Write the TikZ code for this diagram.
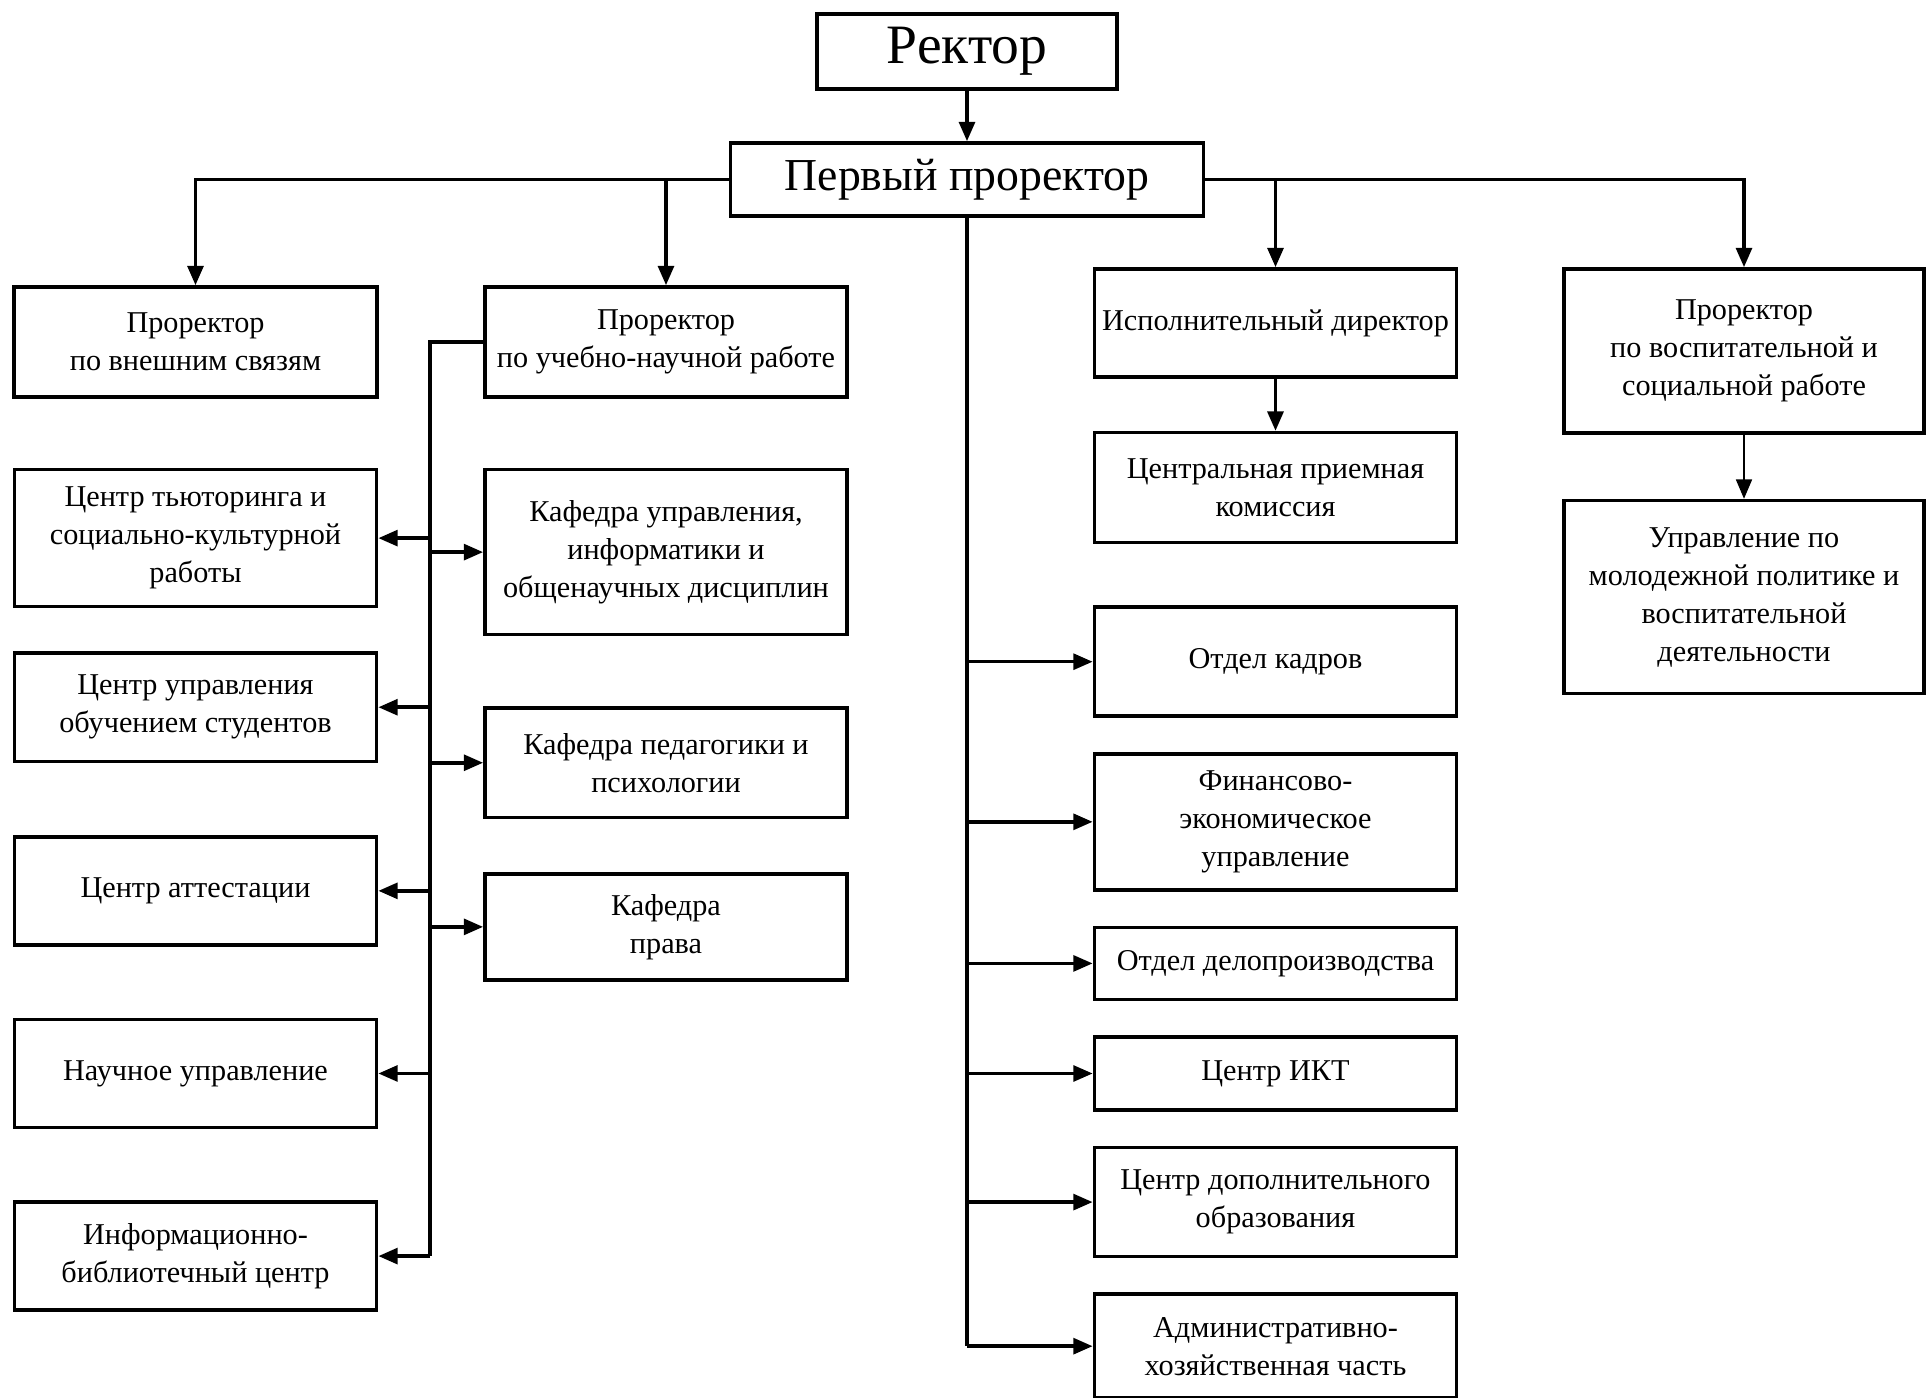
\documentclass[tikz,border=0pt]{standalone}
\usepackage{fontspec}
\setmainfont{Liberation Serif}
\usepackage{tikz}
\usetikzlibrary{positioning}
\usetikzlibrary{arrows.meta}
\tikzstyle{unit} = [draw, rectangle, minimum width=3.62cm, minimum height=1.1cm, inner sep=1pt, align=center, font=\fontsize{8.6}{10.8}\selectfont]
\tikzstyle{head} = [draw, rectangle, inner sep=0pt, align=center]

\begin{document}
\begin{tikzpicture}[x=0.01cm, y=-0.01cm, line width=1pt, >={Triangle[length=5.5pt,width=4.5pt]}]
  \useasboundingbox (0,0) rectangle (1926,1398);

  \node[head, minimum width=3.0cm, minimum height=0.75cm, font=\fontsize{15.8}{18}\selectfont] (rector) at (967,51.5) {Ректор};
  \node[head, minimum width=4.73cm, minimum height=0.73cm, font=\fontsize{13}{15}\selectfont] (first) at (967,179.5) {Первый проректор};

  \node[unit, minimum width=3.63cm] (vneshn) at (195.5,342) {Проректор\\по внешним связям};
  \node[unit, below=0.69cm of vneshn, minimum height=1.37cm] (tutor) {Центр тьюторинга и\\социально-культурной\\работы};
  \node[unit, below=0.43cm of tutor, minimum height=1.08cm] (obuch) {Центр управления\\обучением студентов};
  \node[unit, below=0.72cm of obuch, minimum height=1.08cm] (attest) {Центр аттестации};
  \node[unit, below=0.71cm of attest, minimum height=1.08cm] (nauch) {Научное управление};
  \node[unit, below=0.71cm of nauch, minimum height=1.08cm] (biblio) {Информационно-\\библиотечный центр};

  \node[unit] (ucheb) at (666,342) {Проректор\\по учебно-научной работе};
  \node[unit, below=0.69cm of ucheb, minimum height=1.65cm] (kaf1) {Кафедра управления,\\информатики и\\общенаучных дисциплин};
  \node[unit, below=0.70cm of kaf1, minimum height=1.09cm] (kaf2) {Кафедра педагогики и\\психологии};
  \node[unit, below=0.53cm of kaf2, minimum height=1.06cm] (kaf3) {Кафедра\\права};

  \node[unit, minimum height=1.08cm] (isp) at (1275.5,323) {Исполнительный директор};
  \node[unit, below=0.52cm of isp] (priem) {Центральная приемная\\комиссия};
  \node[unit, below=0.61cm of priem, minimum height=1.09cm] (kadry) {Отдел кадров};
  \node[unit, below=0.34cm of kadry, minimum height=1.36cm] (fin) {Финансово-\\экономическое\\управление};
  \node[unit, below=0.34cm of fin, minimum height=0.72cm] (delo) {Отдел делопроизводства};
  \node[unit, below=0.34cm of delo, minimum height=0.73cm] (ikt) {Центр ИКТ};
  \node[unit, below=0.34cm of ikt, minimum height=1.09cm] (dop) {Центр дополнительного\\образования};
  \node[unit, below=0.34cm of dop, minimum height=1.04cm] (ahch) {Административно-\\хозяйственная часть};

  \node[unit, minimum width=3.6cm, minimum height=1.64cm] (vosp) at (1744,351) {Проректор\\по воспитательной и\\социальной работе};
  \node[unit, below=0.64cm of vosp, minimum width=3.6cm, minimum height=1.93cm] (molod) {Управление по\\молодежной политике и\\воспитательной\\деятельности};

  \coordinate (lt) at (430,342);

  \draw[->] (rector) -- (first);
  \draw[->] (first.west) -| (vneshn.north);
  \draw[->] (ucheb.north |- first.west) -- (ucheb.north);
  \draw[->] (first.east) -| (vosp.north);
  \draw[->] (isp.north |- first.east) -- (isp.north);
  \draw[->] (isp) -- (priem);
  \draw[->, line width=0.6pt] (vosp) -- (molod);

  \draw (first.south) -- (first.south |- ahch.west);
  \foreach \n in {kadry, fin, delo, ikt, dop, ahch}
    \draw[->] (first.south |- \n.west) -- (\n.west);

  \draw (ucheb.west) -- (lt) -- (lt |- biblio.east);
  \foreach \n in {tutor, obuch, attest, nauch, biblio}
    \draw[->] (lt |- \n.east) -- (\n.east);
  \foreach \n in {kaf1, kaf2, kaf3}
    \draw[->] (lt |- \n.west) -- (\n.west);
\end{tikzpicture}
\end{document}
